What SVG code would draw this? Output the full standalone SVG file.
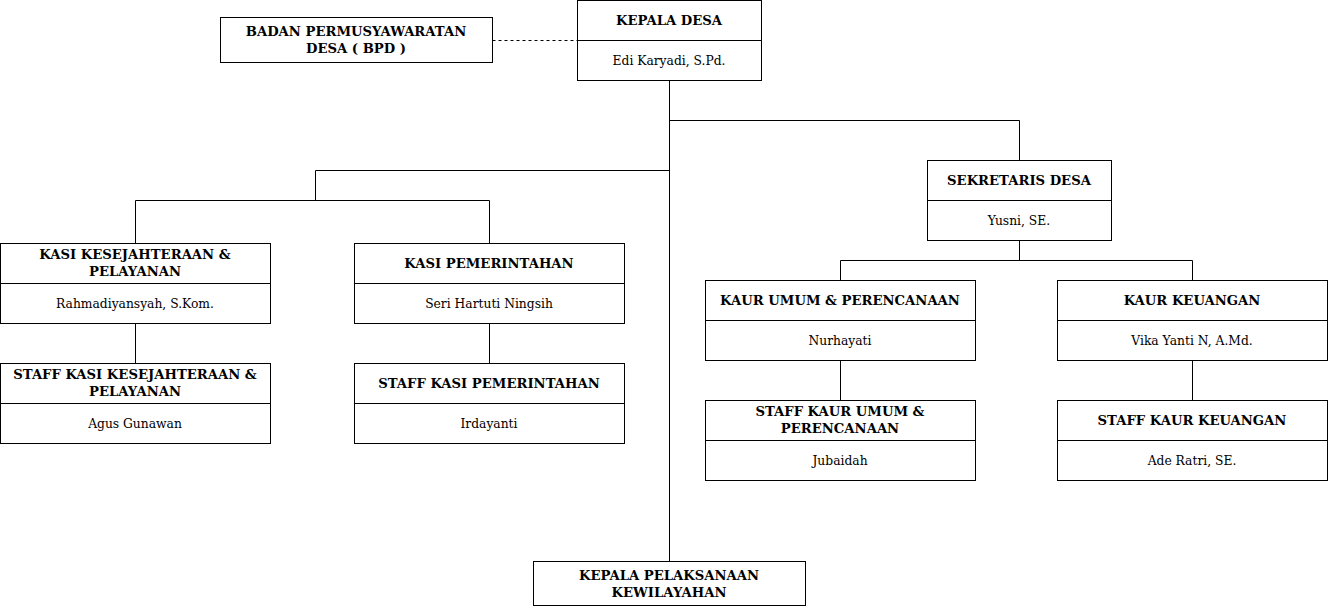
<svg xmlns="http://www.w3.org/2000/svg" width="1329" height="612" viewBox="0 0 1329 612">
<style>
.box{fill:#fff;stroke:#000;stroke-width:1}
.div{stroke:#000;stroke-width:1}
.t{font-family:"DejaVu Serif","Liberation Serif",serif;font-size:13.2px;font-weight:bold;text-anchor:middle;fill:#000}
.n{font-family:"DejaVu Serif","Liberation Serif",serif;font-size:12.3px;text-anchor:middle;fill:#000}
.c{fill:none;stroke:#000;stroke-width:1}
</style>
<rect width="1329" height="612" fill="#fff"/>
<g id="connectors">
<line class="c" x1="492.5" y1="40.5" x2="577.5" y2="40.5" stroke-dasharray="3,3"/>
<polyline class="c" points="669.5,80.5 669.5,561.5"/>
<polyline class="c" points="669.5,120.5 1019.5,120.5 1019.5,160.5"/>
<polyline class="c" points="669.5,170.5 315.5,170.5 315.5,200.5"/>
<polyline class="c" points="135.5,243.5 135.5,200.5 489.5,200.5 489.5,243.5"/>
<line class="c" x1="135.5" y1="323.5" x2="135.5" y2="363.5"/>
<line class="c" x1="489.5" y1="323.5" x2="489.5" y2="363.5"/>
<polyline class="c" points="1019.5,240.5 1019.5,260.5"/>
<polyline class="c" points="840.5,280.5 840.5,260.5 1192.5,260.5 1192.5,280.5"/>
<line class="c" x1="840.5" y1="360.5" x2="840.5" y2="400.5"/>
<line class="c" x1="1192.5" y1="360.5" x2="1192.5" y2="400.5"/>
</g>
<g id="bpd">
<rect class="box" x="220.5" y="17.5" width="272" height="45"/>
<text class="t" x="356" y="36">BADAN PERMUSYAWARATAN</text>
<text class="t" x="356" y="53">DESA ( BPD )</text>
</g>
<g id="kepala-desa">
<rect class="box" x="577.5" y="0.5" width="184" height="80"/>
<line class="div" x1="577.5" y1="40.5" x2="761.5" y2="40.5"/>
<text class="t" x="669" y="25">KEPALA DESA</text>
<text class="n" x="669" y="65">Edi Karyadi, S.Pd.</text>
</g>
<g id="sekretaris">
<rect class="box" x="927.5" y="160.5" width="184" height="80"/>
<line class="div" x1="927.5" y1="200.5" x2="1111.5" y2="200.5"/>
<text class="t" x="1019" y="185">SEKRETARIS DESA</text>
<text class="n" x="1019" y="225">Yusni, SE.</text>
</g>
<g id="kasi-kesejahteraan">
<rect class="box" x="0.5" y="243.5" width="270" height="80"/>
<line class="div" x1="0.5" y1="283.5" x2="270.5" y2="283.5"/>
<text class="t" x="135" y="259">KASI KESEJAHTERAAN &amp;</text>
<text class="t" x="135" y="276">PELAYANAN</text>
<text class="n" x="135" y="308">Rahmadiyansyah, S.Kom.</text>
</g>
<g id="staff-kasi-kesejahteraan">
<rect class="box" x="0.5" y="363.5" width="270" height="80"/>
<line class="div" x1="0.5" y1="403.5" x2="270.5" y2="403.5"/>
<text class="t" x="135" y="379">STAFF KASI KESEJAHTERAAN &amp;</text>
<text class="t" x="135" y="396">PELAYANAN</text>
<text class="n" x="135" y="428">Agus Gunawan</text>
</g>
<g id="kasi-pemerintahan">
<rect class="box" x="354.5" y="243.5" width="270" height="80"/>
<line class="div" x1="354.5" y1="283.5" x2="624.5" y2="283.5"/>
<text class="t" x="489" y="268">KASI PEMERINTAHAN</text>
<text class="n" x="489" y="308">Seri Hartuti Ningsih</text>
</g>
<g id="staff-kasi-pemerintahan">
<rect class="box" x="354.5" y="363.5" width="270" height="80"/>
<line class="div" x1="354.5" y1="403.5" x2="624.5" y2="403.5"/>
<text class="t" x="489" y="388">STAFF KASI PEMERINTAHAN</text>
<text class="n" x="489" y="428">Irdayanti</text>
</g>
<g id="kaur-umum">
<rect class="box" x="705.5" y="280.5" width="270" height="80"/>
<line class="div" x1="705.5" y1="320.5" x2="975.5" y2="320.5"/>
<text class="t" x="840" y="305">KAUR UMUM &amp; PERENCANAAN</text>
<text class="n" x="840" y="345">Nurhayati</text>
</g>
<g id="staff-kaur-umum">
<rect class="box" x="705.5" y="400.5" width="270" height="80"/>
<line class="div" x1="705.5" y1="440.5" x2="975.5" y2="440.5"/>
<text class="t" x="840" y="416">STAFF KAUR UMUM &amp;</text>
<text class="t" x="840" y="433">PERENCANAAN</text>
<text class="n" x="840" y="465">Jubaidah</text>
</g>
<g id="kaur-keuangan">
<rect class="box" x="1057.5" y="280.5" width="270" height="80"/>
<line class="div" x1="1057.5" y1="320.5" x2="1327.5" y2="320.5"/>
<text class="t" x="1192" y="305">KAUR KEUANGAN</text>
<text class="n" x="1192" y="345">Vika Yanti N, A.Md.</text>
</g>
<g id="staff-kaur-keuangan">
<rect class="box" x="1057.5" y="400.5" width="270" height="80"/>
<line class="div" x1="1057.5" y1="440.5" x2="1327.5" y2="440.5"/>
<text class="t" x="1192" y="425">STAFF KAUR KEUANGAN</text>
<text class="n" x="1192" y="465">Ade Ratri, SE.</text>
</g>
<g id="kepala-pelaksanaan">
<rect class="box" x="533.5" y="561.5" width="272" height="44"/>
<text class="t" x="669" y="580">KEPALA PELAKSANAAN</text>
<text class="t" x="669" y="597">KEWILAYAHAN</text>
</g>
</svg>
